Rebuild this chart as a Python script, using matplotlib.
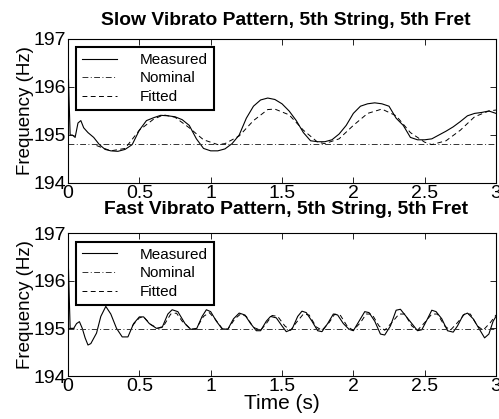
import matplotlib
matplotlib.use("Agg")
import matplotlib.pyplot as plt

plt.rcParams['font.family'] = ['Liberation Sans', 'DejaVu Sans']

# ---- Slow vibrato data ----
slow_t = [0.0, 0.015, 0.03, 0.05, 0.07, 0.09, 0.11, 0.14, 0.18, 0.22, 0.26, 0.3, 0.35, 0.4,
          0.45, 0.5, 0.55, 0.6, 0.65, 0.7, 0.75, 0.8, 0.85, 0.9, 0.95, 1.0, 1.05, 1.1,
          1.15, 1.2, 1.25, 1.3, 1.35, 1.4, 1.45, 1.5, 1.55, 1.6, 1.65, 1.7, 1.75, 1.8,
          1.85, 1.9, 1.95, 2.0, 2.05, 2.1, 2.15, 2.2, 2.25, 2.3, 2.35, 2.4, 2.45, 2.5,
          2.55, 2.6, 2.65, 2.7, 2.75, 2.8, 2.85, 2.9, 2.95, 3.0]
slow_measured = [196.5, 195.0, 195.0, 194.95, 195.25, 195.3, 195.15, 195.05, 194.95, 194.8,
                 194.7, 194.67, 194.66, 194.7, 194.8, 195.1, 195.3, 195.36, 195.41, 195.4,
                 195.38, 195.32, 195.2, 194.92, 194.72, 194.67, 194.67, 194.71, 194.82, 195.0,
                 195.35, 195.6, 195.73, 195.77, 195.74, 195.65, 195.5, 195.3, 195.05, 194.88,
                 194.86, 194.86, 194.9, 195.02, 195.2, 195.45, 195.6, 195.65, 195.67, 195.65,
                 195.6, 195.35, 195.2, 194.95, 194.9, 194.9, 194.92, 195.0, 195.08, 195.17,
                 195.28, 195.4, 195.45, 195.47, 195.5, 195.45]
slow_fit_t = [0.2, 0.3, 0.4, 0.5, 0.6, 0.67, 0.75, 0.85, 0.95, 1.05, 1.1, 1.2, 1.3, 1.4,
              1.45, 1.55, 1.65, 1.75, 1.8, 1.9, 2.0, 2.1, 2.2, 2.3, 2.4, 2.5, 2.55, 2.65,
              2.75, 2.85, 2.95, 3.0]
slow_fitted = [194.78, 194.67, 194.72, 195.1, 195.33, 195.42, 195.37, 195.15, 194.9, 194.8,
               194.82, 194.98, 195.3, 195.53, 195.54, 195.42, 195.1, 194.85, 194.82, 194.92,
               195.2, 195.45, 195.54, 195.4, 195.05, 194.85, 194.8, 194.88, 195.1, 195.38,
               195.5, 195.52]
slow_nominal = 194.81

# ---- Fast vibrato data ----
fast_t = [0.0, 0.015, 0.04, 0.06, 0.08, 0.1, 0.12, 0.14, 0.16, 0.2, 0.23, 0.265, 0.3, 0.34,
          0.38, 0.42, 0.46, 0.5, 0.53, 0.57, 0.62, 0.66, 0.7, 0.73, 0.77, 0.82, 0.86, 0.9,
          0.94, 0.97, 1.0, 1.04, 1.08, 1.12, 1.16, 1.2, 1.24, 1.28, 1.32, 1.35, 1.39, 1.42,
          1.46, 1.5, 1.53, 1.57, 1.61, 1.64, 1.67, 1.71, 1.75, 1.78, 1.82, 1.86, 1.89, 1.93,
          1.97, 2.0, 2.04, 2.08, 2.11, 2.15, 2.19, 2.22, 2.26, 2.3, 2.33, 2.37, 2.41, 2.45,
          2.48, 2.52, 2.55, 2.58, 2.62, 2.66, 2.7, 2.73, 2.77, 2.8, 2.84, 2.88, 2.92, 2.95,
          2.98, 3.0]
fast_measured = [196.6, 195.0, 195.0, 195.1, 195.14, 195.0, 194.8, 194.65, 194.68, 194.9,
                 195.25, 195.46, 195.3, 195.0, 194.82, 194.82, 195.1, 195.24, 195.24, 195.1,
                 195.0, 195.02, 195.3, 195.39, 195.35, 195.1, 194.98, 194.98, 195.25, 195.39,
                 195.35, 195.15, 194.99, 194.98, 195.2, 195.32, 195.28, 195.1, 194.95, 194.95,
                 195.15, 195.25, 195.22, 195.05, 194.93, 194.98, 195.25, 195.36, 195.33, 195.15,
                 194.95, 194.93, 195.1, 195.3, 195.28, 195.1, 194.98, 194.95, 195.15, 195.35,
                 195.33, 195.15, 194.88, 194.86, 195.05, 195.38, 195.4, 195.25, 195.1, 194.95,
                 194.97, 195.2, 195.38, 195.35, 195.2, 194.95, 194.92, 195.05, 195.28, 195.32,
                 195.2, 195.0, 194.8, 194.88, 195.15, 195.25]
fast_fit_t = [0.45, 0.5, 0.53, 0.58, 0.63, 0.67, 0.72, 0.76, 0.8, 0.86, 0.9, 0.95, 0.99,
              1.03, 1.08, 1.12, 1.17, 1.21, 1.25, 1.3, 1.35, 1.39, 1.43, 1.47, 1.52, 1.56,
              1.6, 1.65, 1.69, 1.74, 1.78, 1.83, 1.87, 1.91, 1.96, 2.0, 2.05, 2.09, 2.13,
              2.18, 2.22, 2.27, 2.32, 2.36, 2.41, 2.45, 2.5, 2.55, 2.59, 2.64, 2.68, 2.73,
              2.78, 2.82, 2.87, 2.91, 2.96, 3.0]
fast_fitted = [195.05, 195.22, 195.24, 195.08, 195.0, 195.05, 195.3, 195.32, 195.15, 194.98,
               195.0, 195.25, 195.33, 195.2, 195.0, 194.98, 195.2, 195.3, 195.25, 195.02,
               194.96, 195.1, 195.27, 195.25, 195.05, 194.96, 195.12, 195.3, 195.28, 195.03,
               194.96, 195.12, 195.3, 195.27, 195.03, 194.96, 195.12, 195.3, 195.3, 195.05,
               194.96, 195.12, 195.3, 195.3, 195.05, 194.96, 195.12, 195.3, 195.3, 195.05,
               194.96, 195.12, 195.3, 195.3, 195.05, 194.96, 195.12, 195.28]
fast_nominal = 194.98

titles = ["Slow Vibrato Pattern, 5th String, 5th Fret",
          "Fast Vibrato Pattern, 5th String, 5th Fret"]
legend_labels = ["Measured", "Nominal", "Fitted"]
xticks = [0, 0.5, 1, 1.5, 2, 2.5, 3]
xtick_labels = ["0", "0.5", "1", "1.5", "2", "2.5", "3"]
yticks = [194, 195, 196, 197]

W, H = 499, 419
fig = plt.figure(figsize=(W / 100, H / 100), dpi=100)

ax1 = fig.add_axes([68 / W, 1 - 183 / H, 428 / W, 144 / H])
ax2 = fig.add_axes([68 / W, 1 - 376 / H, 428 / W, 143 / H])

panels = [
    (ax1, slow_t, slow_measured, slow_nominal, slow_fit_t, slow_fitted, 0.946),
    (ax2, fast_t, fast_measured, fast_nominal, fast_fit_t, fast_fitted, 0.939),
]

for ax, t, meas, nom, ft, fit, legtop in panels:
    l1, = ax.plot(t, meas, '-', color='black', lw=0.8)
    l2, = ax.plot([0, 3], [nom, nom], color='#333333', lw=0.7,
                  linestyle=(0, (6, 2.5, 1, 2.5)))
    l3, = ax.plot(ft, fit, color='black', lw=0.7, linestyle=(0, (5, 3.5)))
    ax.set_xlim(0, 3)
    ax.set_ylim(194, 197)
    ax.set_xticks(xticks)
    ax.set_xticklabels(xtick_labels)
    ax.set_yticks(yticks)
    ax.tick_params(direction='in', top=True, right=True, labelsize=14, length=4,
                   width=0.6, pad=1.5)
    for s in ax.spines.values():
        s.set_linewidth(0.8)
    ax.set_ylabel("Frequency (Hz)", fontsize=13.5)
    ax.yaxis.set_label_coords(-34 / 428, 0.5)
    leg = ax.legend([l1, l2, l3], legend_labels, loc='upper left',
                    bbox_to_anchor=(0.0187, legtop), fontsize=11, frameon=True,
                    fancybox=False, framealpha=1, edgecolor='black',
                    handlelength=2.3, handletextpad=1.45, labelspacing=0.3,
                    borderpad=0.4, borderaxespad=0)
    leg.get_frame().set_linewidth(1.5)

fig.text(286 / W, 1 - 25 / H, titles[0], ha='center', va='baseline',
         fontsize=13.9, fontweight='bold')
fig.text(286 / W, 1 - 214 / H, titles[1], ha='center', va='baseline',
         fontsize=13.9, fontweight='bold')
ax2.set_xlabel("Time (s)", fontsize=15, labelpad=-1)

fig.savefig("out.png", dpi=100)
